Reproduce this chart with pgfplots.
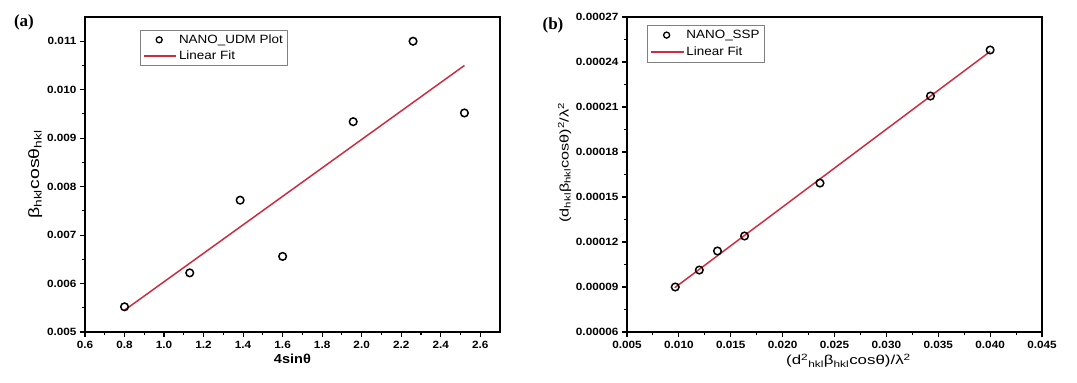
\documentclass[border=0pt]{standalone}
\usepackage{pgfplots}
\pgfplotsset{compat=1.18}
\usepackage{fontspec}
\setmainfont{Liberation Sans}
\newfontfamily\serifb{Liberation Serif}
\newfontfamily\wide[FakeStretch=1.12]{Liberation Sans}
\newfontfamily\wider[FakeStretch=1.3]{Liberation Sans}
\definecolor{fitred}{RGB}{205,45,65}
\begin{document}
\begin{tikzpicture}
\useasboundingbox (0,0) rectangle (1077pt,383pt);
\pgfplotsset{
  every axis/.append style={
    scale only axis, width=415pt, height=315pt, anchor=south west,
    axis line style={line width=1.4pt},
    tick align=outside, tick pos=left,
    major tick length=5pt, minor tick length=3pt,
    every tick/.style={black, line width=1.1pt},
    minor x tick num=1, minor y tick num=1,
    tick label style={font=\wide\fontsize{10.5}{11}\selectfont\bfseries},
    xticklabel style={yshift=-1pt},
    /pgf/number format/assume math mode=true,
    scaled ticks=false,
    legend style={draw=gray, line width=0.6pt, font=\wide\fontsize{12}{13}\selectfont, inner sep=1.5pt, legend cell align=left},
  },
  markleg/.style={legend image code/.code={\draw[black,line width=1.3pt] (0.55cm,0cm) circle (3pt);}},
  lineleg/.style={legend image code/.code={\draw[fitred,line width=1.5pt] (0cm,0cm) -- (1.15cm,0cm);}},
}
\begin{axis}[at={(85pt,51pt)},
  xmin=0.6, xmax=2.7, ymin=0.005, ymax=0.0115,
  xtick={0.6,0.8,1.0,1.2,1.4,1.6,1.8,2.0,2.2,2.4,2.6},
  ytick={0.005,0.006,0.007,0.008,0.009,0.010,0.011},
  xticklabel style={/pgf/number format/.cd, fixed, fixed zerofill, precision=1},
  yticklabel style={/pgf/number format/.cd, fixed, fixed zerofill, precision=3},
  xlabel={4sinθ}, ylabel={β\textsubscript{hkl}cosθ\textsubscript{hkl}},
  xlabel style={font=\wide\fontsize{13}{14}\selectfont\bfseries, yshift=2pt},
  ylabel style={font=\wider\fontsize{15}{16}\selectfont, yshift=-2pt},
  legend style={at={(0.1325,0.959)}, anchor=north west, row sep=2pt, inner sep=2.5pt},
]
\addplot[only marks, mark=o, mark size=3.8pt, line width=1.5pt, black, markleg] coordinates {
 (0.80,0.00552) (1.13,0.00622) (1.385,0.00772) (1.60,0.00656) (1.957,0.00934) (2.26,0.01100) (2.52,0.00952)};
\addlegendentry{NANO\_UDM Plot}
\addplot[fitred, line width=1.5pt, lineleg] coordinates {(0.80,0.00545) (2.52,0.01050)};
\addlegendentry{Linear Fit}
\end{axis}
\begin{axis}[at={(627pt,51pt)},
  xmin=0.005, xmax=0.045, ymin=0.00006, ymax=0.00027,
  xtick={0.005,0.010,0.015,0.020,0.025,0.030,0.035,0.040,0.045},
  ytick={0.00006,0.00009,0.00012,0.00015,0.00018,0.00021,0.00024,0.00027},
  xticklabel style={/pgf/number format/.cd, fixed, fixed zerofill, precision=3},
  yticklabel style={/pgf/number format/.cd, fixed, fixed zerofill, precision=5},
  xlabel={(d\textsuperscript{2}\textsubscript{hkl}β\textsubscript{hkl}cosθ)/λ\textsuperscript{2}},
  ylabel={(d\textsubscript{hkl}β\textsubscript{hkl}cosθ)\textsuperscript{2}/λ\textsuperscript{2}},
  xlabel style={font=\wider\fontsize{13}{14}\selectfont, yshift=2pt, xshift=14pt},
  ylabel style={font=\wider\fontsize{12.5}{13}\selectfont, yshift=-2pt, xshift=12pt},
  legend style={at={(0.048,0.975)}, anchor=north west, row sep=3pt, inner sep=3pt},
]
\addplot[only marks, mark=o, mark size=3.8pt, line width=1.5pt, black, markleg] coordinates {
 (0.00965,0.0000900) (0.01197,0.0001013) (0.01372,0.0001140) (0.01633,0.0001240) (0.0236,0.0001593) (0.03425,0.0002173) (0.0400,0.0002480)};
\addlegendentry{NANO\_SSP}
\addplot[fitred, line width=1.5pt, lineleg] coordinates {(0.0096,0.0000895) (0.0400,0.0002470)};
\addlegendentry{Linear Fit}
\end{axis}
\node[font=\serifb\bfseries\fontsize{17}{18}\selectfont] at (24pt,361pt) {(a)};
\node[font=\serifb\bfseries\fontsize{17}{18}\selectfont] at (553pt,358pt) {(b)};
\end{tikzpicture}
\end{document}
